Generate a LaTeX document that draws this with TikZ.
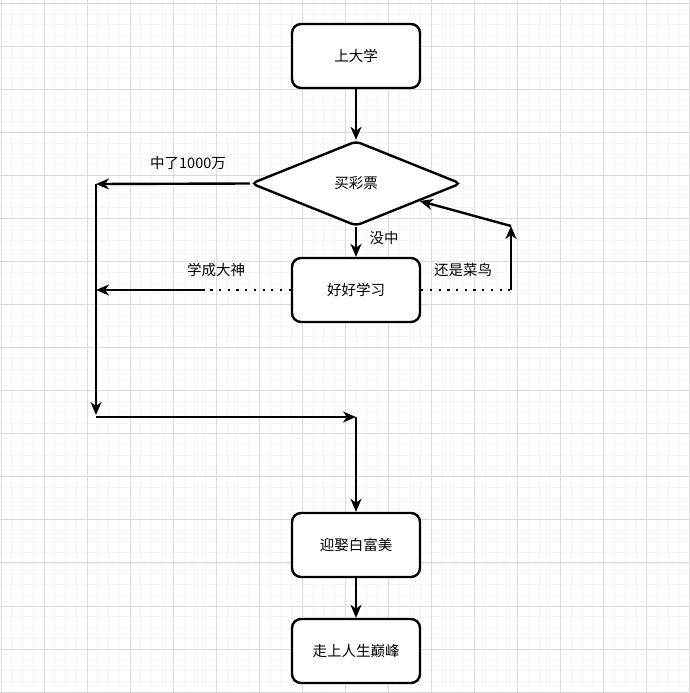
\documentclass[tikz,border=0pt]{standalone}
\usepackage{fontspec}
\setmainfont{Noto Sans CJK SC}
\usetikzlibrary{arrows.meta,shapes.geometric}
\definecolor{gridmajor}{RGB}{218,218,218}
\definecolor{gridminor}{RGB}{245,245,245}
\tikzset{
  minorgrid/.style={draw=gridminor,line width=0.9pt},
  majorgrid/.style={draw=gridmajor,line width=1pt},
  stepbox/.style={draw=black,line width=2.4pt,rounded corners=9pt,fill=white,
    minimum width=128pt,minimum height=64pt,inner sep=0pt,font=\fontsize{14.5}{17}\selectfont},
  decision/.style={draw=black,line width=2.4pt,diamond,rounded corners=5pt,fill=white,
    minimum width=210pt,minimum height=85pt,inner sep=0pt,font=\fontsize{14.5}{17}\selectfont},
  lbl/.style={inner sep=0pt,font=\fontsize{14.5}{17}\selectfont},
  conn/.style={line width=2.4pt,-{Stealth[length=13pt,width=11pt,inset=4pt]}},
  dotline/.style={line width=2.4pt,dash pattern=on 2.2pt off 6.5pt},
}
\begin{document}
\begin{tikzpicture}[x=1pt,y=-1pt]
\useasboundingbox (0,0) rectangle (690,693);
\fill[white] (0,0) rectangle (690,693);
% grid
\foreach \k in {0,...,64} {
  \draw[minorgrid] ({1+10.7625*\k},0) -- ({1+10.7625*\k},693);
  \draw[minorgrid] (0,{3.3+10.7625*\k}) -- (690,{3.3+10.7625*\k});
}
\foreach \k in {0,...,16} {
  \draw[majorgrid] ({1+43.05*\k},0) -- ({1+43.05*\k},693);
  \draw[majorgrid] (0,{3.3+43.05*\k}) -- (690,{3.3+43.05*\k});
}
% nodes
\node[stepbox] (uni) at (356,56) {上大学};
\node[decision] (lot) at (356,183.5) {买彩票};
\node[stepbox] (study) at (356,290) {好好学习};
\node[stepbox] (marry) at (356,545) {迎娶白富美};
\node[stepbox] (peak) at (356,651) {走上人生巅峰};
% coordinates
\coordinate (l1) at (96,184);
\coordinate (l2) at (96,290);
\coordinate (l3) at (96,415);
\coordinate (l4) at (96,417);
\coordinate (r4) at (356,417);
\coordinate (s1) at (205,290);
\coordinate (c1) at (511,290);
\coordinate (c2) at (511,226);
% connectors
\draw[conn] (uni) -- (lot);
\draw[conn] (lot) -- (study);
\draw[conn] (lot.west) -- (l1);
\draw[dotline] (study.west) -- (s1);
\draw[conn] (s1) -- (l2);
\draw[dotline] (study.east) -- (c1);
\draw[conn] (c1) -- (c2);
\draw[conn] (c2) -- (lot);
\draw[conn] (l1) -- (l3);
\draw[conn] (l4) -- (r4);
\draw[conn] (r4) -- (marry.north);
\draw[conn] (marry) -- (peak);
% labels
\node[lbl] (t1) at (188,163) {中了1000万};
\node[lbl] (t2) at (384,237.5) {没中};
\node[lbl] (t3) at (216,270) {学成大神};
\node[lbl] (t4) at (463,269.5) {还是菜鸟};
\end{tikzpicture}
\end{document}
